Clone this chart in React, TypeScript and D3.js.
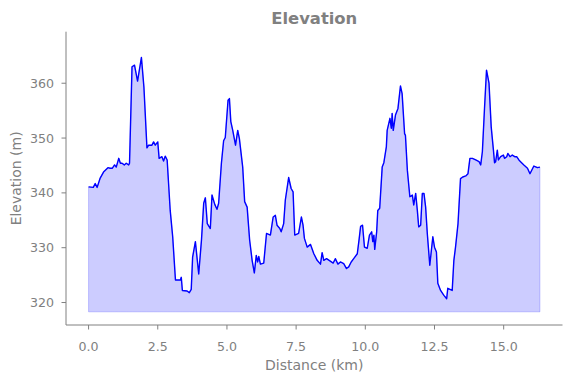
import React from "react";
import * as d3 from "d3";

const distanceKm: number[] = [
  0.0, 0.17, 0.24, 0.31, 0.42, 0.54, 0.7, 0.78, 0.86, 0.94, 1.0, 1.09, 1.15, 1.21, 1.29, 1.36, 1.45, 1.48,
  1.57, 1.66, 1.77, 1.91, 2.0, 2.11, 2.17, 2.29, 2.35, 2.41, 2.5, 2.55, 2.65, 2.71, 2.77, 2.84, 2.95, 3.04,
  3.14, 3.32, 3.35, 3.39, 3.56, 3.64, 3.71, 3.76, 3.86, 3.98, 4.08, 4.16, 4.22, 4.29, 4.4, 4.46, 4.56, 4.64,
  4.7, 4.8, 4.88, 4.94, 5.04, 5.09, 5.14, 5.21, 5.31, 5.39, 5.45, 5.57, 5.64, 5.73, 5.82, 5.91, 5.99, 6.06,
  6.11, 6.15, 6.21, 6.33, 6.43, 6.57, 6.67, 6.75, 6.81, 6.91, 6.96, 7.05, 7.11, 7.23, 7.32, 7.39, 7.45, 7.59,
  7.69, 7.75, 7.8, 7.9, 8.02, 8.14, 8.26, 8.38, 8.44, 8.5, 8.6, 8.72, 8.84, 8.92, 9.01, 9.1, 9.22, 9.32,
  9.4, 9.49, 9.58, 9.71, 9.78, 9.83, 9.9, 9.97, 10.07, 10.15, 10.23, 10.27, 10.31, 10.34, 10.41, 10.45,
  10.52, 10.61, 10.67, 10.76, 10.79, 10.89, 10.94, 10.97, 11.01, 11.09, 11.18, 11.27, 11.33, 11.42, 11.45,
  11.52, 11.61, 11.7, 11.75, 11.82, 11.88, 11.93, 12.0, 12.06, 12.12, 12.18, 12.24, 12.33, 12.44, 12.5,
  12.57, 12.62, 12.72, 12.84, 12.94, 12.98, 13.14, 13.2, 13.26, 13.35, 13.44, 13.52, 13.63, 13.71, 13.78,
  13.87, 13.99, 14.11, 14.17, 14.23, 14.31, 14.38, 14.47, 14.55, 14.63, 14.67, 14.71, 14.77, 14.81, 14.89,
  14.99, 15.03, 15.11, 15.15, 15.23, 15.31, 15.4, 15.47, 15.55, 15.61, 15.73, 15.86, 15.95, 16.0, 16.09,
  16.22, 16.31,
];

const elevationM: number[] = [
  341.1, 341.0, 341.7, 341.0, 342.7, 343.8, 344.6, 344.5, 344.5, 345.1, 344.7, 346.3, 345.4, 345.4, 345.1,
  345.4, 345.1, 345.4, 363.0, 363.3, 360.4, 364.7, 359.3, 348.2, 348.7, 348.7, 349.3, 348.7, 349.3, 346.3,
  346.6, 345.8, 346.7, 346.0, 336.8, 332.0, 324.1, 324.1, 324.6, 322.2, 322.1, 321.8, 322.4, 328.3, 331.1,
  325.2, 331.4, 338.1, 339.1, 334.4, 333.5, 339.6, 337.9, 337.0, 338.1, 345.4, 349.5, 350.1, 356.9, 357.2,
  353.0, 351.4, 348.7, 351.4, 349.9, 344.7, 338.4, 337.4, 331.4, 327.7, 325.4, 328.6, 327.4, 328.4, 327.0,
  327.2, 332.6, 332.3, 335.6, 335.9, 334.1, 333.5, 332.9, 334.4, 338.7, 342.8, 340.8, 340.2, 332.3, 332.6,
  335.6, 334.1, 331.7, 330.1, 330.6, 328.9, 327.7, 327.0, 329.1, 327.7, 328.0, 327.6, 327.2, 328.0, 327.0,
  327.4, 327.1, 326.2, 326.5, 327.4, 328.0, 328.9, 331.7, 333.9, 334.1, 330.1, 329.9, 332.3, 332.9, 331.1,
  332.3, 329.7, 332.9, 336.8, 337.2, 344.7, 345.5, 348.4, 351.4, 353.6, 351.8, 354.5, 351.4, 354.2, 355.4,
  359.5, 358.1, 350.8, 350.5, 344.1, 339.3, 339.6, 337.8, 339.9, 336.8, 333.8, 334.1, 339.9, 339.9, 337.4,
  332.6, 326.8, 332.0, 330.1, 329.2, 323.5, 322.2, 321.3, 320.7, 322.6, 322.2, 327.7, 330.1, 334.4, 342.6,
  342.9, 343.1, 343.5, 346.3, 346.3, 346.0, 345.7, 345.1, 347.5, 355.7, 362.4, 360.0, 352.0, 347.8, 345.5,
  345.7, 347.8, 346.0, 346.6, 346.9, 346.3, 346.6, 347.2, 346.6, 346.9, 346.6, 346.6, 346.0, 345.7, 345.1,
  344.5, 343.5, 344.0, 344.9, 344.6, 344.7,
];

const fillBase = 318.3;
const xTicks: number[] = [0, 2.5, 5, 7.5, 10, 12.5, 15];
const yTicks: number[] = [320, 330, 340, 350, 360];
const titleText = "Elevation";
const xLabel = "Distance (km)";
const yLabel = "Elevation (m)";

const W = 571;
const H = 378;
const left = 66;
const right = 562.5;
const top = 31.7;
const bottom = 325;
const gray = "#808080";
const font = "DejaVu Sans, sans-serif";

export default function App() {
  const maxD = d3.max(distanceKm) as number;
  const x = d3.scaleLinear().domain([-0.05 * maxD, 1.05 * maxD]).range([left, right]);
  const y = d3.scaleLinear().domain([315.9, 369.4]).range([bottom, top]);

  const pts = distanceKm.map((d, i) => [d, elevationM[i]] as [number, number]);
  const area = d3
    .area<[number, number]>()
    .x((p) => x(p[0]))
    .y0(() => y(fillBase))
    .y1((p) => y(p[1]));
  const line = d3
    .line<[number, number]>()
    .x((p) => x(p[0]))
    .y((p) => y(p[1]));

  return (
    <svg
      width={W}
      height={H}
      style={{ position: "absolute", left: 0, top: 0, background: "#fff" }}
      fontFamily={font}
    >
      <path d={area(pts) || ""} fill="#0000ff" fillOpacity={0.2} stroke="#0000ff" strokeOpacity={0.2} strokeWidth={1} />
      <path d={line(pts) || ""} fill="none" stroke="#0000ff" strokeWidth={1.4} strokeLinejoin="round" />

      <line x1={left} x2={left} y1={top} y2={bottom} stroke={gray} strokeWidth={1} />
      <line x1={left} x2={right} y1={bottom} y2={bottom} stroke={gray} strokeWidth={1} />

      {xTicks.map((t) => (
        <g key={"x" + t}>
          <line x1={x(t)} x2={x(t)} y1={bottom} y2={bottom + 4.5} stroke={gray} strokeWidth={1} />
          <text x={x(t)} y={bottom + 26} textAnchor="middle" fontSize={12.6} fill={gray}>
            {t.toFixed(1)}
          </text>
        </g>
      ))}
      {yTicks.map((t) => (
        <g key={"y" + t}>
          <line x1={left - 4.5} x2={left} y1={y(t)} y2={y(t)} stroke={gray} strokeWidth={1} />
          <text x={left - 12} y={y(t)} dy="0.36em" textAnchor="end" fontSize={12.6} fill={gray}>
            {t}
          </text>
        </g>
      ))}

      <text x={(left + right) / 2} y={370} textAnchor="middle" fontSize={14} fill={gray}>
        {xLabel}
      </text>
      <text
        transform={`translate(${21},${(top + bottom) / 2}) rotate(-90)`}
        textAnchor="middle"
        fontSize={14}
        fill={gray}
      >
        {yLabel}
      </text>
      <text x={(left + right) / 2} y={24} textAnchor="middle" fontSize={16.4} fontWeight="bold" fill={gray}>
        {titleText}
      </text>
    </svg>
  );
}
